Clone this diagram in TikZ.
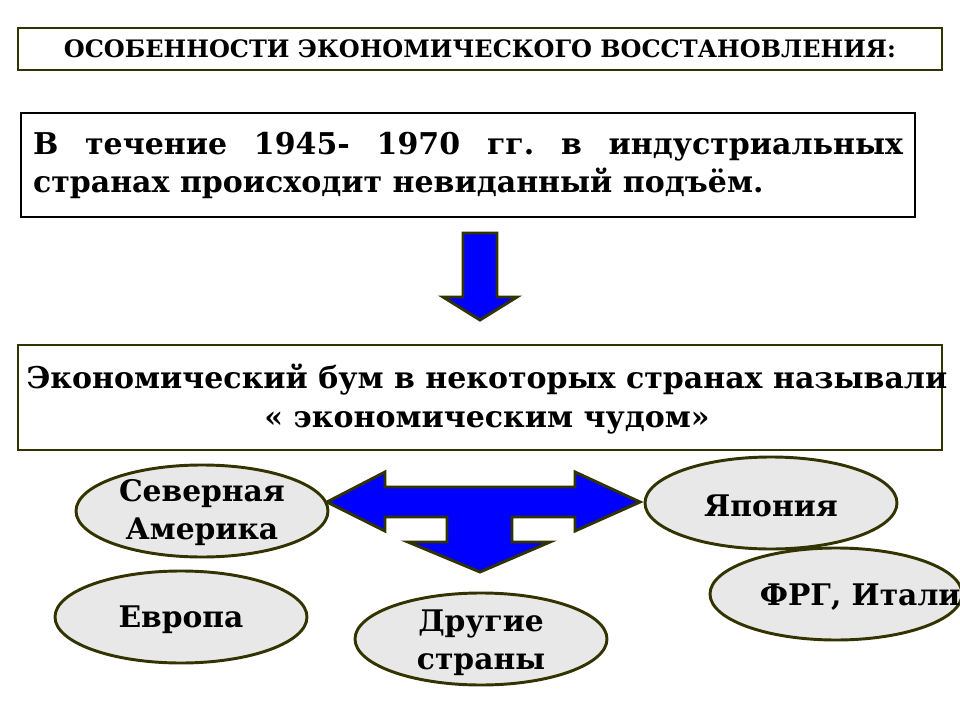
\documentclass[tikz,border=0pt]{standalone}
\usepackage{fontspec}
\setmainfont{DejaVu Serif}
\usepackage{tikz}
\usetikzlibrary{shapes,shapes.geometric,positioning}
\definecolor{rim}{RGB}{51,51,0}
\definecolor{landgray}{RGB}{232,232,232}
\frenchspacing

\begin{document}
\begin{tikzpicture}[x=0.75pt,y=-0.75pt,
    box/.style={rectangle,draw=rim,line width=2.2pt,fill=white,inner sep=0pt},
    land/.style={ellipse,draw=rim,line width=2.2pt,fill=landgray,
      minimum width=189pt,minimum height=69pt,inner sep=0pt},
    blockarrow/.style={draw=rim,line width=2.2pt,fill=blue,line join=miter},
    ltext/.style={font=\bfseries\fontsize{22.3}{28.5}\selectfont,align=center}]
    \useasboundingbox (0,0) rectangle (960,720);

    % boxes
    \node[box,minimum width=693pt,minimum height=31.5pt,
      font=\bfseries\fontsize{18}{20}\selectfont] (title) at (480,49)
      {ОСОБЕННОСТИ ЭКОНОМИЧЕСКОГО ВОССТАНОВЛЕНИЯ:};
    \node[box,draw=black,minimum width=670.5pt,minimum height=78pt,
      text width=652.5pt,align=justify,
      font=\bfseries\fontsize{22.5}{28.5}\selectfont] (rise) at (468,165)
      {\frenchspacing В течение 1945- 1970 гг. в индустриальных странах происходит невиданный подъём.};
    \node[box,minimum width=693pt,minimum height=78.75pt] (boom) at (480,397.5) {};
    \node[align=center,font=\bfseries\fontsize{22.5}{29.5}\selectfont] (boomtext)
      at (487,399) {Экономический бум в некоторых странах называли\\« экономическим чудом»};

    % arrows
    \draw[blockarrow] (463,233) -- (497,233) -- (497,297) -- (517,297)
      -- (480,320) -- (443,297) -- (463,297) -- cycle;
    \draw[blockarrow] (327,502) -- (385,472) -- (385,487) -- (575,487)
      -- (575,472) -- (640,502) -- (575,531) -- (575,517) -- (512,517)
      -- (512,542) -- (550,542) -- (480,572) -- (408,542) -- (447,542)
      -- (447,517) -- (385,517) -- (385,531) -- cycle;

    % countries
    \node[land,label={[ltext,yshift=-1pt]center:Северная\\Америка}] (NAm) at (202,511) {};
    \node[land,label={[ltext,yshift=-2pt]center:Европа}] (Eur) at (181,617) {};
    \node[land,label={[ltext,yshift=-3pt]center:Другие\\страны}] (Oth) at (481,639) {};
    \node[land,label={[ltext,yshift=-2pt]center:Япония}] (Jap) at (771,503) {};
    \node[land,label={[ltext,anchor=west,xshift=35pt,yshift=-2pt]west:{ФРГ, Италия}}] (FRG) at (836,594) {};
\end{tikzpicture}
\end{document}
